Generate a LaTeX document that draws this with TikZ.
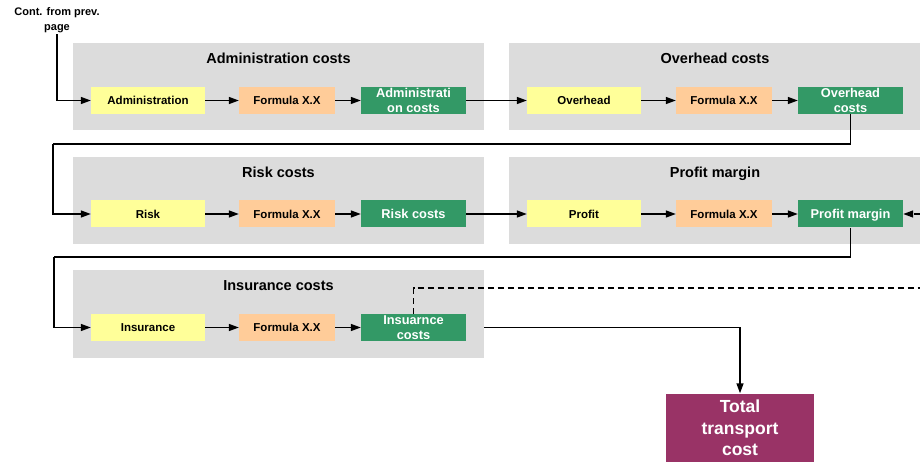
\documentclass[tikz,border=0pt]{standalone}
\usepackage{fontspec}
\setmainfont{Liberation Sans}
\usetikzlibrary{arrows.meta,calc}
\definecolor{grp}{HTML}{DCDCDC}
\definecolor{yel}{HTML}{FFFF99}
\definecolor{ora}{HTML}{FFCC99}
\definecolor{grn}{HTML}{339966}
\definecolor{pur}{HTML}{993366}
\begin{document}
\begin{tikzpicture}[x=1pt,y=-1pt,
  grpbox/.style={fill=grp,draw=none,minimum width=411pt,minimum height=87.5pt,inner sep=0pt},
  ttl/.style={font=\bfseries\fontsize{14.5}{16}\selectfont,text height=10.4pt,text depth=0pt,inner sep=0pt},
  inbox/.style={fill=yel,minimum width=114pt,minimum height=27pt,inner sep=0pt,text height=8.2pt,text depth=0pt,font=\bfseries\fontsize{11.5}{13}\selectfont},
  formbox/.style={fill=ora,minimum width=96pt,minimum height=27pt,inner sep=0pt,text height=8.2pt,text depth=0pt,font=\bfseries\fontsize{11.5}{13}\selectfont},
  costbox/.style={fill=grn,text=white,minimum width=105pt,minimum height=27pt,inner sep=0pt,align=center,font=\bfseries\fontsize{12.8}{15}\selectfont},
  onecost/.style={costbox,text height=9.2pt,text depth=0pt},
  conn/.style={line width=1.4pt,-{Triangle[length=10pt,width=7pt]}},
  plain/.style={line width=1.4pt},
  dsh/.style={line width=1.4pt,dash pattern=on 6pt off 4pt},
]
\useasboundingbox (0,0) rectangle (920,462);

% group boxes
\node[grpbox] (g1) at (278.5,86.75) {};
\node[grpbox] (g2) at (714.5,86.75) {};
\node[grpbox] (g3) at (278.5,200.5) {};
\node[grpbox] (g4) at (714.5,200.5) {};
\node[grpbox] (g5) at (278.5,314) {};

% titles
\node[ttl] (t1) at (278.5,58) {Administration costs};
\node[ttl] (t2) at (715,58) {Overhead costs};
\node[ttl] (t3) at (278.5,172) {Risk costs};
\node[ttl] (t4) at (715,172) {Profit margin};
\node[ttl] (t5) at (278.5,285) {Insurance costs};

% row 1
\node[inbox] (adm) at (148,100.5) {Administration};
\node[formbox] (admf) at (287,100.5) {Formula X.X};
\node[costbox] (admc) at (413.5,100.5) {Administrati\\on costs};
\node[inbox] (ovh) at (584,100.5) {Overhead};
\node[formbox] (ovhf) at (724,100.5) {Formula X.X};
\node[costbox] (ovhc) at (850.5,100.5) {Overhead\\costs};

% row 2
\node[inbox] (rsk) at (148,214) {Risk};
\node[formbox] (rskf) at (287,214) {Formula X.X};
\node[onecost] (rskc) at (413.5,214) {Risk costs};
\node[inbox] (prf) at (584,214) {Profit};
\node[formbox] (prff) at (724,214) {Formula X.X};
\node[onecost] (prfc) at (850.5,214) {Profit margin};

% row 3
\node[inbox] (ins) at (148,327.5) {Insurance};
\node[formbox] (insf) at (287,327.5) {Formula X.X};
\node[costbox] (insc) at (413.5,327.5) {Insuarnce\\costs};

% total
\node[fill=pur,text=white,minimum width=148pt,minimum height=69pt,inner sep=0pt,align=center,font=\bfseries\fontsize{17.5}{21.5}\selectfont] (tot) at (740,428) {Total\\transport\\cost};

% continuation label
\node[align=center,font=\bfseries\fontsize{11}{15}\selectfont,inner sep=1pt] (cont) at (57,20.5) {Cont. from prev.\\page};

% coordinates
\coordinate (l1) at (53,144);
\coordinate (l2) at (54,257);
\coordinate (ie) at (484,327.5);
\coordinate (dr) at (920,288);
\coordinate (pr) at (920,214);

% connectors
\draw[conn] (cont.south) |- (adm.west);
\draw[conn] (adm) -- (admf);
\draw[conn] (admf) -- (admc);
\draw[conn] (admc) -- (ovh);
\draw[conn] (ovh) -- (ovhf);
\draw[conn] (ovhf) -- (ovhc);
\draw[plain] (ovhc.south) |- (l1);
\draw[conn] (l1) |- (rsk.west);
\draw[conn] (rsk) -- (rskf);
\draw[conn] (rskf) -- (rskc);
\draw[conn] (rskc) -- (prf);
\draw[conn] (prf) -- (prff);
\draw[conn] (prff) -- (prfc);
\draw[conn,dash pattern=on 6pt off 4pt] (pr) -- (prfc.east);
\draw[plain] (prfc.south) |- (l2);
\draw[conn] (l2) |- (ins.west);
\draw[conn] (ins) -- (insf);
\draw[conn] (insf) -- (insc);
\draw[dsh] (insc.north) |- (dr);
\draw[conn] (ie) -| (tot.north);
\end{tikzpicture}
\end{document}
